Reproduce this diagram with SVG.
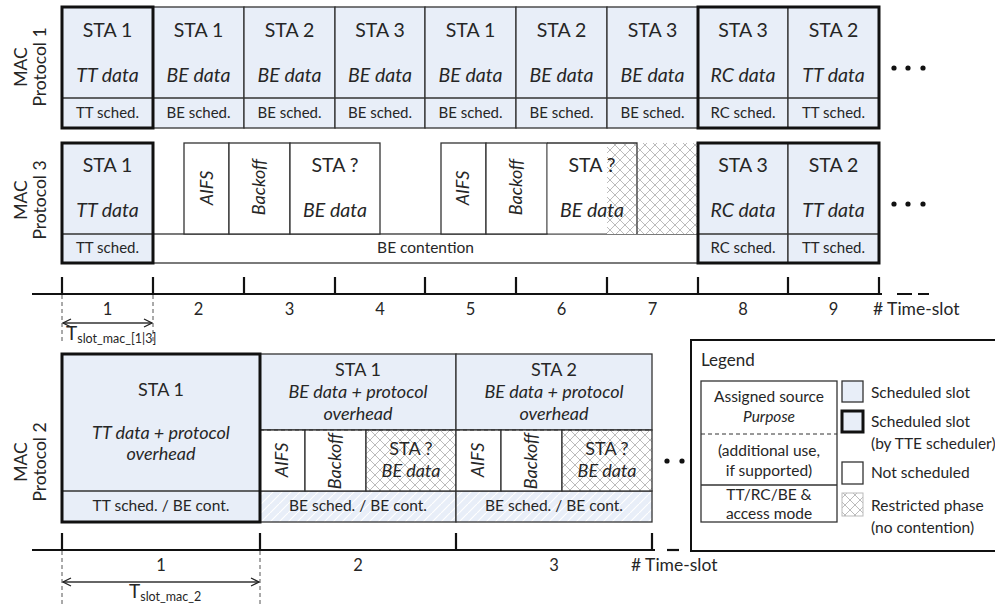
<svg xmlns="http://www.w3.org/2000/svg" width="995" height="605" viewBox="0 0 995 605">
<defs>
<pattern id="cross" patternUnits="userSpaceOnUse" width="10" height="10">
<rect width="10" height="10" fill="#fff"/>
<path d="M0,0 L10,10 M10,0 L0,10" stroke="#b4b4b4" stroke-width="0.9" fill="none"/>
</pattern>
<pattern id="stripe" patternUnits="userSpaceOnUse" width="9" height="9">
<rect width="9" height="9" fill="#e8eef8"/>
<path d="M-1,10 L10,-1" stroke="#ffffff" stroke-width="1.2" fill="none"/>
</pattern>
<marker id="arr" viewBox="0 0 10 10" refX="9" refY="5" markerWidth="10" markerHeight="10" markerUnits="userSpaceOnUse" orient="auto-start-reverse">
<path d="M1,1 L9,5 L1,9" fill="none" stroke="#222" stroke-width="1.3"/>
</marker>
<style>
.sb{fill:#e8eef8;stroke:#333;stroke-width:1.3}
.sw{fill:#fff;stroke:#333;stroke-width:1.3}
.sx{fill:url(#cross);stroke:#333;stroke-width:1.3}
.ss{fill:url(#stripe);stroke:#333;stroke-width:1.3}
.ln{stroke:#333;stroke-width:1.3;fill:none}
.th{fill:none;stroke:#111;stroke-width:3}
.ax{stroke:#111;stroke-width:2.2;fill:none}
.dv{stroke:#555;stroke-width:1;stroke-dasharray:4,3;fill:none}
text{font-family:Lato,"Open Sans","Liberation Sans",sans-serif;fill:#262626;text-anchor:middle}
.a{font-size:19.5px}
.ai{font-size:19.5px;font-style:italic}
.s{font-size:15px}
.m{font-size:16.5px}
.b{font-size:18px}
.bi{font-size:18px;font-style:italic}
.c{font-size:15.5px}
.r{font-size:18px;font-style:italic}
.lab{font-size:17.5px}
.lg{font-size:15.5px;text-anchor:start}
.lc{font-size:15.5px}
.dot{fill:#111}
</style>
</defs>

<g id="labels">
<text class="lab" transform="translate(27,67) rotate(-90)">MAC</text>
<text class="lab" transform="translate(46,67) rotate(-90)">Protocol 1</text>
<text class="lab" transform="translate(27,200) rotate(-90)">MAC</text>
<text class="lab" transform="translate(46,200) rotate(-90)">Protocol 3</text>
<text class="lab" transform="translate(27,462) rotate(-90)">MAC</text>
<text class="lab" transform="translate(46,462) rotate(-90)">Protocol 2</text>
</g>

<g id="mac1">
<g id="m1s1"><rect class="sb" x="62" y="7" width="91" height="121"/><line class="ln" x1="62" y1="98" x2="153" y2="98"/><text class="a" x="107.5" y="37">STA 1</text><text class="ai" x="107.5" y="82">TT data</text><text class="s" x="107.5" y="118">TT sched.</text></g>
<g id="m1s2"><rect class="sb" x="153" y="7" width="91" height="121"/><line class="ln" x1="153" y1="98" x2="244" y2="98"/><text class="a" x="198.5" y="37">STA 1</text><text class="ai" x="198.5" y="82">BE data</text><text class="s" x="198.5" y="118">BE sched.</text></g>
<g id="m1s3"><rect class="sb" x="244" y="7" width="91" height="121"/><line class="ln" x1="244" y1="98" x2="335" y2="98"/><text class="a" x="289.5" y="37">STA 2</text><text class="ai" x="289.5" y="82">BE data</text><text class="s" x="289.5" y="118">BE sched.</text></g>
<g id="m1s4"><rect class="sb" x="335" y="7" width="90" height="121"/><line class="ln" x1="335" y1="98" x2="425" y2="98"/><text class="a" x="380" y="37">STA 3</text><text class="ai" x="380" y="82">BE data</text><text class="s" x="380" y="118">BE sched.</text></g>
<g id="m1s5"><rect class="sb" x="425" y="7" width="91" height="121"/><line class="ln" x1="425" y1="98" x2="516" y2="98"/><text class="a" x="470.5" y="37">STA 1</text><text class="ai" x="470.5" y="82">BE data</text><text class="s" x="470.5" y="118">BE sched.</text></g>
<g id="m1s6"><rect class="sb" x="516" y="7" width="91" height="121"/><line class="ln" x1="516" y1="98" x2="607" y2="98"/><text class="a" x="561.5" y="37">STA 2</text><text class="ai" x="561.5" y="82">BE data</text><text class="s" x="561.5" y="118">BE sched.</text></g>
<g id="m1s7"><rect class="sb" x="607" y="7" width="91" height="121"/><line class="ln" x1="607" y1="98" x2="698" y2="98"/><text class="a" x="652.5" y="37">STA 3</text><text class="ai" x="652.5" y="82">BE data</text><text class="s" x="652.5" y="118">BE sched.</text></g>
<g id="m1s8"><rect class="sb" x="698" y="7" width="90" height="121"/><line class="ln" x1="698" y1="98" x2="788" y2="98"/><text class="a" x="743" y="37">STA 3</text><text class="ai" x="743" y="82">RC data</text><text class="s" x="743" y="118">RC sched.</text></g>
<g id="m1s9"><rect class="sb" x="788" y="7" width="91" height="121"/><line class="ln" x1="788" y1="98" x2="879" y2="98"/><text class="a" x="833.5" y="37">STA 2</text><text class="ai" x="833.5" y="82">TT data</text><text class="s" x="833.5" y="118">TT sched.</text></g>
<rect class="th" x="62" y="7" width="91" height="121"/>
<rect class="th" x="698" y="7" width="181" height="121"/>
<circle class="dot" cx="894" cy="68" r="2.6"/><circle class="dot" cx="908" cy="68" r="2.6"/><circle class="dot" cx="923" cy="68" r="2.6"/>
</g>

<g id="mac3">
<g id="m3s1"><rect class="sb" x="62" y="143" width="91" height="120"/><line class="ln" x1="62" y1="234" x2="153" y2="234"/><text class="a" x="107.5" y="172">STA 1</text><text class="ai" x="107.5" y="217">TT data</text><text class="s" x="107.5" y="253">TT sched.</text></g>
<g id="m3cont"><rect class="sw" x="153" y="234" width="545" height="29"/><text class="c" x="425.5" y="253">BE contention</text></g>
<g id="m3c1">
<rect class="sw" x="184" y="143" width="45" height="91"/>
<rect class="sw" x="229" y="143" width="61" height="91"/>
<rect class="sw" x="290" y="143" width="90" height="91"/>
<text class="r" transform="translate(213,188) rotate(-90)">AIFS</text>
<text class="r" transform="translate(265,187) rotate(-90)">Backoff</text>
<text class="a" x="335" y="172">STA ?</text><text class="ai" x="335" y="217">BE data</text>
</g>
<g id="m3c2">
<rect x="607" y="143" width="91" height="91" fill="url(#cross)"/>
<rect class="sw" x="441" y="143" width="45" height="91"/>
<rect class="sw" x="486" y="143" width="61" height="91"/>
<rect x="547.7" y="143.7" width="59" height="89.6" fill="#fff"/>
<path class="ln" d="M547,143 H637 V234"/>
<text class="r" transform="translate(469,188) rotate(-90)">AIFS</text>
<text class="r" transform="translate(522,187) rotate(-90)">Backoff</text>
<text class="a" x="592" y="172">STA ?</text><text class="ai" x="592" y="217">BE data</text>
</g>
<g id="m3s8"><rect class="sb" x="698" y="143" width="90" height="120"/><line class="ln" x1="698" y1="234" x2="788" y2="234"/><text class="a" x="743" y="172">STA 3</text><text class="ai" x="743" y="217">RC data</text><text class="s" x="743" y="253">RC sched.</text></g>
<g id="m3s9"><rect class="sb" x="788" y="143" width="91" height="120"/><line class="ln" x1="788" y1="234" x2="879" y2="234"/><text class="a" x="833.5" y="172">STA 2</text><text class="ai" x="833.5" y="217">TT data</text><text class="s" x="833.5" y="253">TT sched.</text></g>
<rect class="th" x="62" y="143" width="91" height="120"/>
<rect class="th" x="698" y="143" width="181" height="120"/>
<circle class="dot" cx="894" cy="204" r="2.6"/><circle class="dot" cx="908" cy="204" r="2.6"/><circle class="dot" cx="923" cy="204" r="2.6"/>
</g>

<g id="axis1">
<line class="ax" x1="32" y1="294" x2="882" y2="294"/>
<path class="ax" d="M897,294 H912 M918,294 H929"/>
<path class="ax" d="M62,277 V294 M153,277 V294 M244,277 V294 M335,277 V294 M425,277 V294 M516,277 V294 M607,277 V294 M698,277 V294 M788,277 V294 M879,277 V294"/>
<text class="m" x="107.5" y="315">1</text><text class="m" x="198.5" y="315">2</text><text class="m" x="289.5" y="315">3</text><text class="m" x="380" y="315">4</text><text class="m" x="470.5" y="315">5</text><text class="m" x="561.5" y="315">6</text><text class="m" x="652.5" y="315">7</text><text class="m" x="743" y="315">8</text><text class="m" x="833.5" y="315">9</text>
<text x="873" y="315" style="text-anchor:start;font-size:17.5px">#&#160;Time-slot</text>
<path class="dv" d="M62,295 V342 M153,295 V342"/>
<line class="ln" x1="63" y1="323" x2="152" y2="323" marker-start="url(#arr)" marker-end="url(#arr)"/>
<text x="66" y="340" style="text-anchor:start;font-size:19px">T<tspan style="font-size:12.5px" dy="3">slot_mac_[1|3]</tspan></text>
</g>

<g id="mac2">
<g id="m2s1"><rect class="sb" x="62" y="354" width="198" height="168"/><line class="ln" x1="62" y1="491" x2="260" y2="491"/><text class="b" x="161" y="396">STA 1</text><text class="bi" x="161" y="439">TT data + protocol</text><text class="bi" x="161" y="460">overhead</text><text class="c" x="161" y="511">TT sched. / BE cont.</text></g>
<g id="m2s2">
<rect class="sb" x="260" y="354" width="196" height="76"/>
<rect class="ss" x="260" y="491" width="196" height="31"/>
<rect class="sw" x="260" y="430" width="45" height="61"/>
<rect class="sw" x="305" y="430" width="61" height="61"/>
<rect class="sx" x="366" y="430" width="90" height="61"/>
<line class="dv" x1="260" y1="430" x2="456" y2="430" style="stroke:#333"/>
<text class="b" x="358" y="376">STA 1</text><text class="bi" x="358" y="398">BE data + protocol</text><text class="bi" x="358" y="420">overhead</text>
<text class="r" transform="translate(288,460) rotate(-90)">AIFS</text>
<text class="r" transform="translate(341,461) rotate(-90)">Backoff</text>
<text class="b" x="411" y="455">STA ?</text><text class="bi" x="411" y="477">BE data</text>
<text class="c" x="358" y="511">BE sched. / BE cont.</text>
</g>
<g id="m2s3">
<rect class="sb" x="456" y="354" width="196" height="76"/>
<rect class="ss" x="456" y="491" width="196" height="31"/>
<rect class="sw" x="456" y="430" width="45" height="61"/>
<rect class="sw" x="501" y="430" width="61" height="61"/>
<rect class="sx" x="562" y="430" width="90" height="61"/>
<line class="dv" x1="456" y1="430" x2="652" y2="430" style="stroke:#333"/>
<text class="b" x="554" y="376">STA 2</text><text class="bi" x="554" y="398">BE data + protocol</text><text class="bi" x="554" y="420">overhead</text>
<text class="r" transform="translate(484,460) rotate(-90)">AIFS</text>
<text class="r" transform="translate(537,461) rotate(-90)">Backoff</text>
<text class="b" x="607" y="455">STA ?</text><text class="bi" x="607" y="477">BE data</text>
<text class="c" x="554" y="511">BE sched. / BE cont.</text>
</g>
<rect class="th" x="62" y="354" width="198" height="168"/>
<circle class="dot" cx="667" cy="461" r="2.6"/><circle class="dot" cx="682" cy="461" r="2.6"/>
</g>

<g id="axis2">
<line class="ax" x1="32" y1="550" x2="655" y2="550"/>
<path class="ax" d="M667,550 H679"/>
<path class="ax" d="M62,533 V550 M260,533 V550 M456,533 V550 M652,533 V550"/>
<text class="m" x="161" y="571">1</text><text class="m" x="358" y="571">2</text><text class="m" x="554" y="571">3</text>
<text x="631" y="571" style="text-anchor:start;font-size:17.5px">#&#160;Time-slot</text>
<path class="dv" d="M62,551 V605 M260,551 V605"/>
<line class="ln" x1="63" y1="582" x2="259" y2="582" marker-start="url(#arr)" marker-end="url(#arr)"/>
<text x="129" y="598" style="text-anchor:start;font-size:19px">T<tspan style="font-size:12.5px" dy="3">slot_mac_2</tspan></text>
</g>

<g id="legend">
<rect x="691" y="340" width="320" height="211" fill="#fff" stroke="#111" stroke-width="2"/>
<text x="701" y="366" style="text-anchor:start;font-size:17px">Legend</text>
<rect class="sw" x="701" y="381" width="136" height="141"/>
<line class="dv" x1="701" y1="434" x2="837" y2="434" style="stroke:#333"/>
<line class="ln" x1="701" y1="485" x2="837" y2="485"/>
<text class="lc" x="769" y="402">Assigned source</text>
<text class="lc" x="769" y="422" style="font-style:italic">Purpose</text>
<text class="lc" x="769" y="456">(additional use,</text>
<text class="lc" x="769" y="476">if supported)</text>
<text class="lc" x="769" y="500">TT/RC/BE &amp;</text>
<text class="lc" x="769" y="519">access mode</text>
<rect class="sb" x="842" y="381" width="21" height="21"/>
<rect class="sb" x="842" y="411" width="21" height="21" style="stroke:#111;stroke-width:3"/>
<rect class="sw" x="842" y="462" width="21" height="22"/>
<rect x="842" y="493" width="21" height="23" fill="url(#cross)" stroke="#bbb" stroke-width="1"/>
<text class="lg" x="871" y="398">Scheduled slot</text>
<text class="lg" x="871" y="427">Scheduled slot</text>
<text class="lg" x="871" y="449">(by TTE scheduler)</text>
<text class="lg" x="871" y="478">Not scheduled</text>
<text class="lg" x="871" y="511">Restricted phase</text>
<text class="lg" x="871" y="533">(no contention)</text>
</g>
</svg>
